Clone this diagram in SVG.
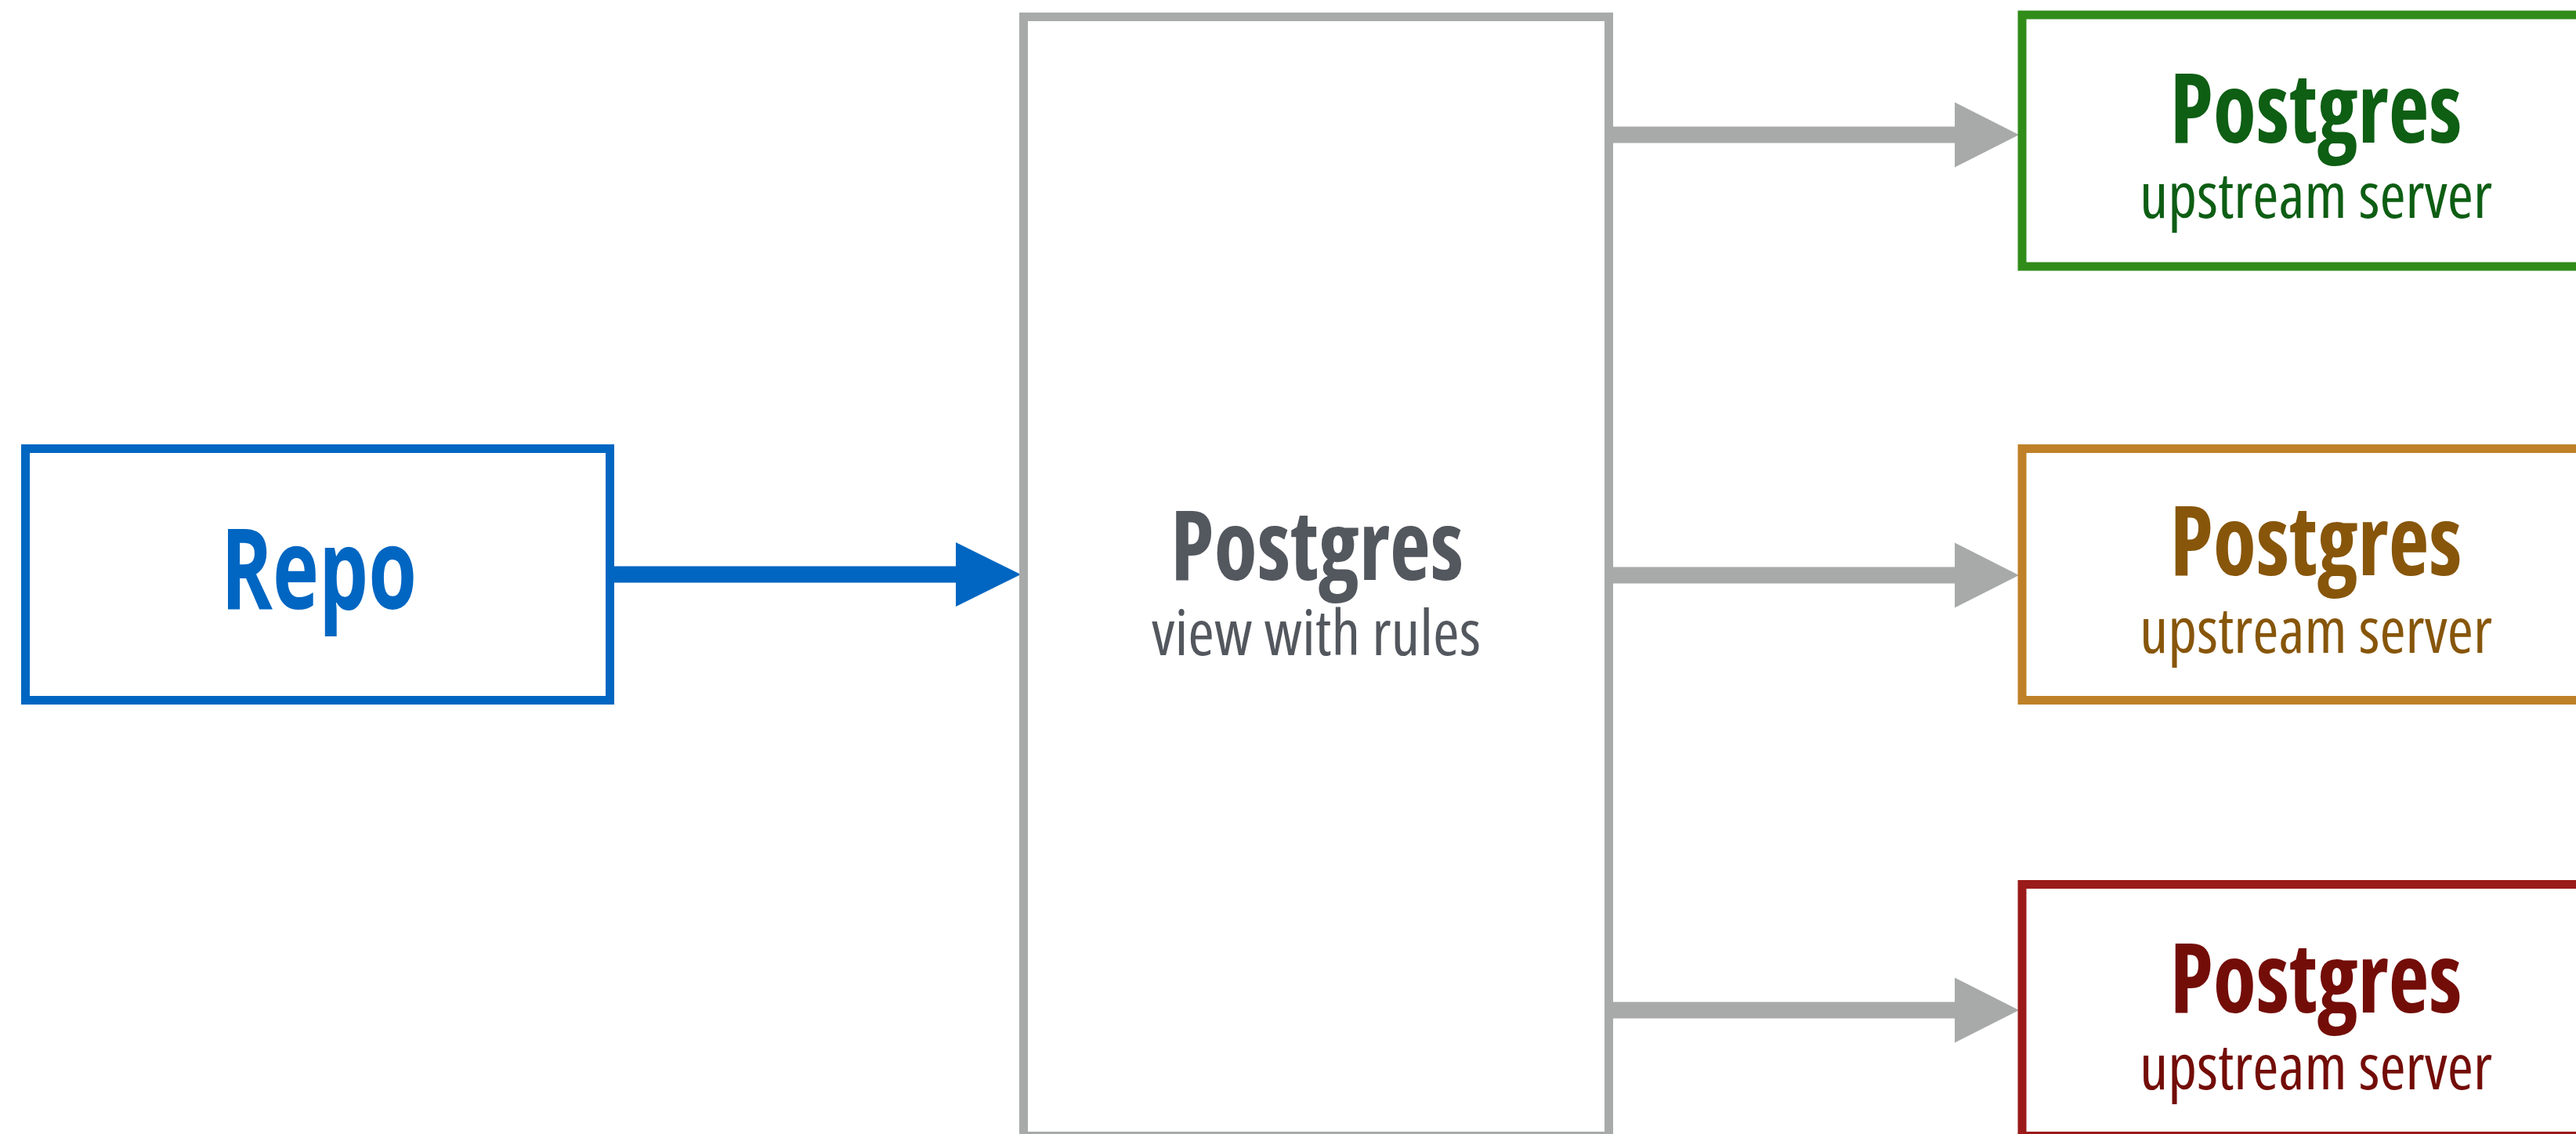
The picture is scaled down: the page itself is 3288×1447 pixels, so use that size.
<svg xmlns="http://www.w3.org/2000/svg" width="3288" height="1447" viewBox="0 0 3288 1447">
  <style>
    .box { fill: #ffffff; stroke-width: 11; }
    .title { font-family: "Open Sans", "Liberation Sans", sans-serif; font-weight: 700; font-size: 124px; text-anchor: middle; font-stretch: condensed; }
    .sub { font-family: "Open Sans", "Liberation Sans", sans-serif; font-weight: 400; font-size: 80px; text-anchor: middle; font-stretch: condensed; }
    .gray-shaft { stroke: #a7aaa9; stroke-width: 21; fill: none; }
    .gray-head { fill: #a7aaa9; }
  </style>
  <rect width="3288" height="1447" fill="#ffffff"/>

  <g id="connectors">
    <line x1="784" y1="733" x2="1222" y2="733" stroke="#0066c2" stroke-width="21"/>
    <polygon points="1220,692 1303,733 1220,774" fill="#0066c2"/>
    <line class="gray-shaft" x1="2059" y1="172" x2="2497" y2="172"/>
    <polygon class="gray-head" points="2495,130.5 2577,172 2495,213.5"/>
    <line class="gray-shaft" x1="2059" y1="734" x2="2497" y2="734"/>
    <polygon class="gray-head" points="2495,692.5 2577,734 2495,775.5"/>
    <line class="gray-shaft" x1="2059" y1="1289" x2="2497" y2="1289"/>
    <polygon class="gray-head" points="2495,1247.5 2577,1289 2495,1330.5"/>
  </g>

  <g id="repo">
    <rect class="box" x="32.5" y="572.5" width="746" height="321" stroke="#0066c2"/>
    <text x="407" y="777" font-family="'Open Sans', 'Liberation Sans', sans-serif" font-weight="700" font-size="144" text-anchor="middle" fill="#0066c2" textLength="250" lengthAdjust="spacingAndGlyphs">Repo</text>
  </g>

  <g id="view">
    <rect class="box" x="1306.5" y="21.5" width="747" height="1428" stroke="#a7aaa9"/>
    <text class="title" x="1681" y="740" fill="#53575e" textLength="374" lengthAdjust="spacingAndGlyphs">Postgres</text>
    <text class="sub" x="1680" y="836" fill="#53575e" textLength="420" lengthAdjust="spacingAndGlyphs">view with rules</text>
  </g>

  <g id="upstream-green">
    <rect class="box" x="2581" y="19" width="780" height="321" stroke="#318c1a"/>
    <text class="title" x="2956" y="182" fill="#0e5e14" textLength="373" lengthAdjust="spacingAndGlyphs">Postgres</text>
    <text class="sub" x="2956" y="278" fill="#0e5e14" textLength="450" lengthAdjust="spacingAndGlyphs">upstream server</text>
  </g>

  <g id="upstream-orange">
    <rect class="box" x="2581" y="572.5" width="780" height="321" stroke="#bf8128"/>
    <text class="title" x="2956" y="734" fill="#87560b" textLength="373" lengthAdjust="spacingAndGlyphs">Postgres</text>
    <text class="sub" x="2956" y="833" fill="#87560b" textLength="450" lengthAdjust="spacingAndGlyphs">upstream server</text>
  </g>

  <g id="upstream-red">
    <rect class="box" x="2581" y="1128.5" width="780" height="321" stroke="#9b1a1a"/>
    <text class="title" x="2956" y="1292" fill="#730d08" textLength="373" lengthAdjust="spacingAndGlyphs">Postgres</text>
    <text class="sub" x="2956" y="1390" fill="#730d08" textLength="450" lengthAdjust="spacingAndGlyphs">upstream server</text>
  </g>
</svg>
